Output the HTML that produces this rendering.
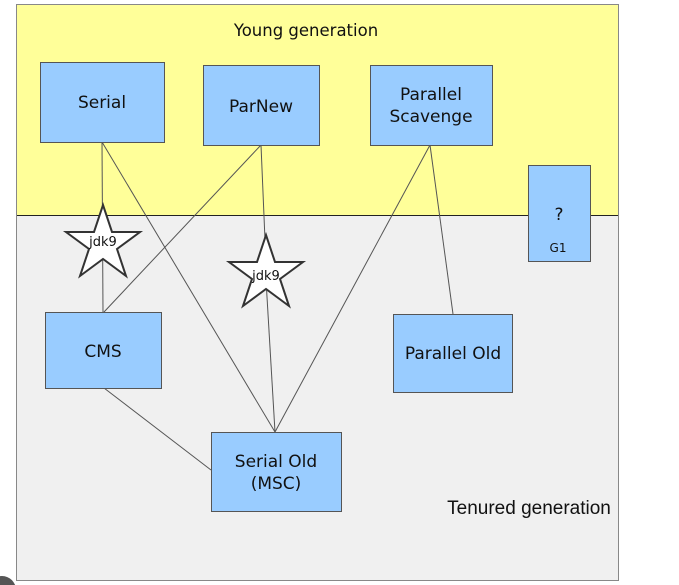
<!DOCTYPE html>
<html><head><meta charset="utf-8"><style>
html,body{margin:0;padding:0;background:#fff;width:679px;height:585px;overflow:hidden}
svg{display:block}
text{font-family:"DejaVu Sans","Liberation Sans",sans-serif;fill:#111}
</style></head><body>
<svg width="679" height="585" viewBox="0 0 679 585" xmlns="http://www.w3.org/2000/svg">
<rect x="16.5" y="4.5" width="602" height="576" fill="#f0f0f0" stroke="#888" stroke-width="1"/>
<rect x="17" y="5" width="601" height="210" fill="#ffff99"/>
<line x1="17" y1="215.5" x2="618" y2="215.5" stroke="#222" stroke-width="1"/>
<rect x="16.5" y="4.5" width="602" height="576" fill="none" stroke="#888" stroke-width="1"/>
<text x="306" y="36" font-size="16.5" text-anchor="middle">Young generation</text>
<text x="529" y="514" font-size="19" text-anchor="middle" style="font-family:'Liberation Sans Narrow','Liberation Sans',sans-serif">Tenured generation</text>
<g stroke="#555" stroke-width="1" fill="none">
<line x1="102" y1="142" x2="103" y2="312"/>
<line x1="102" y1="142" x2="275" y2="432"/>
<line x1="261" y1="145" x2="104" y2="312"/>
<line x1="261" y1="145" x2="265" y2="240"/>
<line x1="266" y1="280" x2="275" y2="432"/>
<line x1="430" y1="145" x2="275" y2="432"/>
<line x1="430" y1="145" x2="453" y2="314"/>
<line x1="104" y1="388" x2="211" y2="470"/>
</g>
<g fill="#99ccff" stroke="#555" stroke-width="1">
<rect x="40.5" y="62.5" width="124" height="80"/>
<rect x="203.5" y="65.5" width="116" height="80"/>
<rect x="370.5" y="65.5" width="122" height="80"/>
<rect x="528.5" y="165.5" width="62" height="96"/>
<rect x="45.5" y="312.5" width="116" height="76"/>
<rect x="393.5" y="314.5" width="119" height="78"/>
<rect x="211.5" y="432.5" width="130" height="79"/>
</g>
<text x="102" y="108" font-size="17" text-anchor="middle">Serial</text>
<text x="261" y="112" font-size="17" text-anchor="middle">ParNew</text>
<text x="431" y="100" font-size="17" text-anchor="middle">Parallel</text>
<text x="431" y="122" font-size="17" text-anchor="middle">Scavenge</text>
<text x="559" y="220" font-size="17" text-anchor="middle">?</text>
<text x="558" y="252" font-size="12" text-anchor="middle">G1</text>
<text x="103" y="357" font-size="17" text-anchor="middle">CMS</text>
<text x="453" y="359" font-size="17" text-anchor="middle">Parallel Old</text>
<text x="276" y="467" font-size="17" text-anchor="middle">Serial Old</text>
<text x="276" y="489" font-size="17" text-anchor="middle">(MSC)</text>
<g fill="#fff" stroke="#333" stroke-width="2">
<polygon points="103,205 112,232 140,232 117,249 126,276 103,259 80,276 89,249 66,232 94,232"/>
<polygon points="266,235 275,262 303,262 280,279 289,306 266,289 243,306 252,279 229,262 257,262"/>
</g>
<text x="103" y="246" font-size="13" text-anchor="middle" fill="#333">jdk9</text>
<text x="266" y="280" font-size="13" text-anchor="middle" fill="#333">jdk9</text>
<circle cx="2" cy="590" r="14" fill="#555"/>
</svg>
</body></html>
